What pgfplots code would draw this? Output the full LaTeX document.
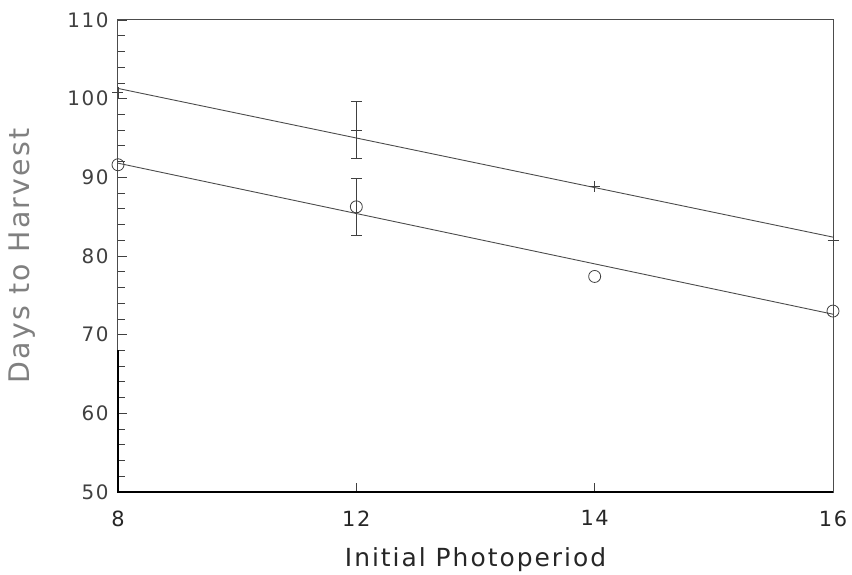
\documentclass[border=0pt]{standalone}
\usepackage{pgfplots}
\pgfplotsset{compat=1.18}
\usepackage{fontspec}
\setmainfont{DejaVu Sans}
\newfontfamily\labfont[LetterSpace=8]{DejaVu Sans}
\begin{document}
\begin{tikzpicture}
\useasboundingbox (-118bp,-83bp) rectangle (734bp,492bp);
\begin{axis}[
  at={(0,0)}, anchor=south west,
  scale only axis, width=715bp, height=472bp,
  xmin=0, xmax=3, ymin=50, ymax=110,
  xtick={0,1,2,3}, xticklabels={8,12,14,16},
  ytick={50,60,...,110}, minor y tick num=4,
  xtick pos=bottom, ytick pos=left,
  tick align=inside,
  major tick length=9bp, minor tick length=7bp,
  tick style={black!75, line width=0.8bp},
  axis line style={black!70, line width=1bp},
  /pgf/number format/assume math mode=true,
  xticklabel style={font=\labfont\fontsize{21}{21}\selectfont, text=black!85, yshift=-15bp},
  yticklabel style={font=\labfont\fontsize{20}{20}\selectfont, text=black!75, xshift=-6bp},
  xlabel={Initial Photoperiod},
  ylabel={Days to Harvest},
  xlabel style={font=\labfont\fontsize{25}{25}\selectfont, text=black!85, at={(axis description cs:0.5,-0.158)}, anchor=base},
  ylabel style={font=\labfont\fontsize{28.5}{28.5}\selectfont, text=black!50, at={(axis description cs:-0.134,0.5)}, anchor=center},
  clip=false,
]
% regression lines
\addplot[black!70, line width=0.9bp, no marks] coordinates {(0,101.3) (3,82.4)};
\addplot[black!70, line width=0.9bp, no marks] coordinates {(0,91.8) (3,72.6)};
% plus series
\addplot[only marks, mark=+, mark size=5.5bp, black!75, line width=0.8bp]
  coordinates {(0,100.8) (1,96.0) (2,88.8) (3,82.0)};
% circle series
\addplot[only marks, mark=o, mark size=6bp, black!75, line width=0.8bp]
  coordinates {(0,91.6) (1,86.25) (2,77.4) (3,73.0)};
% error bars at 12
\addplot[draw=none, mark=none, forget plot,
  error bars/.cd, y dir=both, y explicit, error mark options={rotate=90, mark size=5.5bp, black!75, line width=0.8bp},
  error bar style={black!75, line width=0.8bp}]
  coordinates {(1,96.0) +- (0,3.65) (1,86.25) +- (0,3.65)};
\draw[black, line width=1.4bp] (rel axis cs:0,0.3) -- (rel axis cs:0,0) -- (rel axis cs:1,0);
\end{axis}
\end{tikzpicture}
\end{document}
